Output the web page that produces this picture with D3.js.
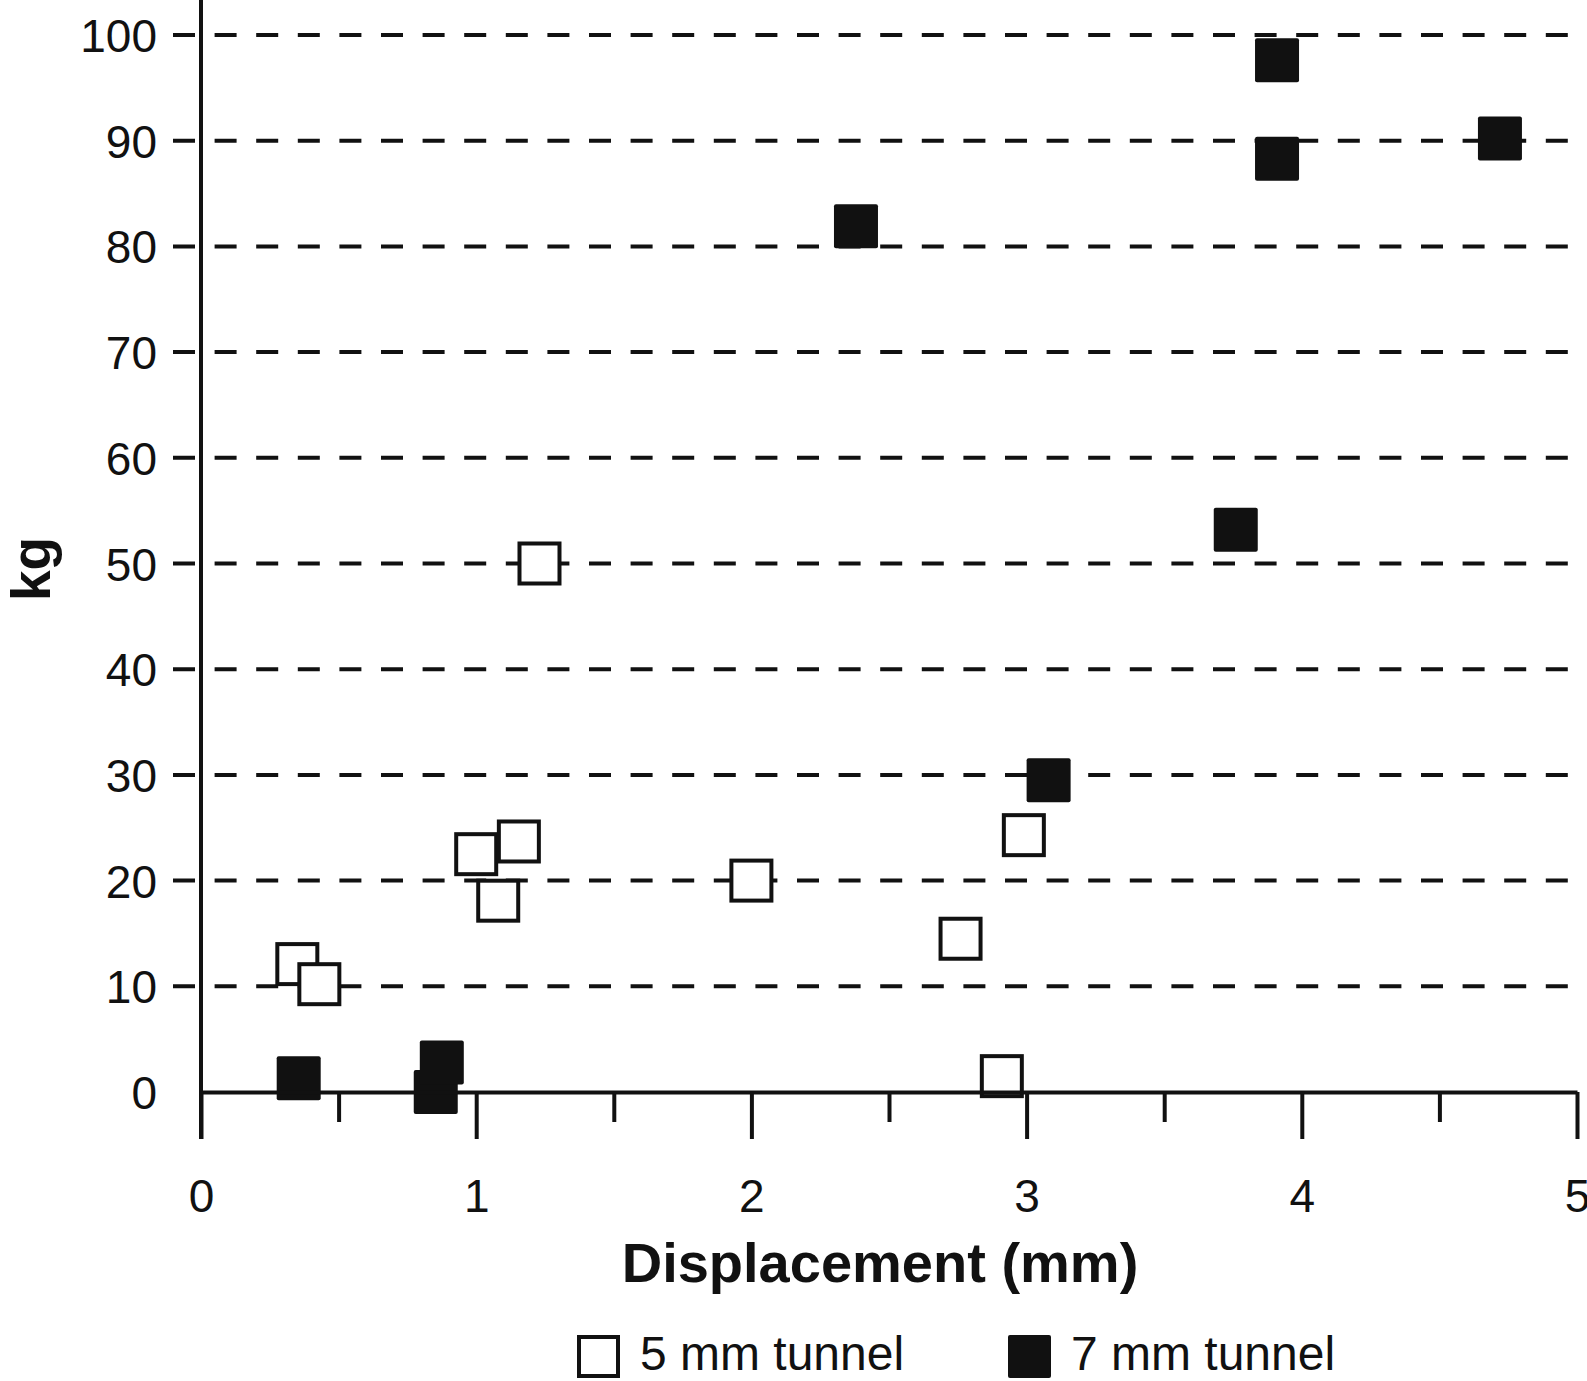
<!DOCTYPE html>
<html>
<head>
<meta charset="utf-8">
<script src="https://cdn.jsdelivr.net/npm/d3@7"></script>
<style>
  html, body { margin: 0; padding: 0; background: #fff; }
  svg { display: block; }
  text { font-family: 'Liberation Sans', Arial, sans-serif; fill: #111; }
</style>
</head>
<body>
<svg id="chart"></svg>
<script>
// 5 mm tunnel (open squares)
const tunnel5X = [0.35, 0.43, 1.0, 1.08, 1.155, 1.23, 2.0, 2.76, 2.91, 2.99]
const tunnel5Y = [12.1, 10.2, 22.5, 18.1, 23.7, 50.0, 20.0, 14.5, 1.5, 24.3]
// 7 mm tunnel (filled squares)
const tunnel7X = [0.355, 0.853, 0.875, 2.38, 3.08, 3.76, 3.91, 3.91, 4.72]
const tunnel7Y = [1.3, 0.0, 2.8, 81.9, 29.5, 53.2, 97.6, 88.3, 90.2]

const xTicks = [0, 0.5, 1, 1.5, 2, 2.5, 3, 3.5, 4, 4.5, 5]
const yTicks = [0, 10, 20, 30, 40, 50, 60, 70, 80, 90, 100]
const legendLabels = ['5 mm tunnel', '7 mm tunnel']

const W = 1587, H = 1381
const ink = '#111'

const svg = d3.select('#chart').attr('width', W).attr('height', H)

const x = d3.scaleLinear().domain([0, 5]).range([201, 1577])
const y = d3.scaleLinear().domain([0, 100]).range([1092, 35])

// dashed grid (starts a bit left of the y axis)
svg.append('g')
  .selectAll('line')
  .data(yTicks.filter((d) => d > 0))
  .join('line')
  .attr('x1', 173)
  .attr('x2', x(5))
  .attr('y1', (d) => y(d))
  .attr('y2', (d) => y(d))
  .attr('stroke', ink)
  .attr('stroke-width', 4)
  .attr('stroke-dasharray', '22,19.6')

// points
const pts5 = tunnel5X.map((v, i) => ({ x: v, y: tunnel5Y[i] }))
const pts7 = tunnel7X.map((v, i) => ({ x: v, y: tunnel7Y[i] }))
const s = 40

svg.append('g')
  .selectAll('rect')
  .data(pts5)
  .join('rect')
  .attr('x', (d) => x(d.x) - s / 2)
  .attr('y', (d) => y(d.y) - s / 2)
  .attr('width', s)
  .attr('height', s)
  .attr('fill', '#fff')
  .attr('stroke', ink)
  .attr('stroke-width', 4)

svg.append('g')
  .selectAll('rect')
  .data(pts7)
  .join('rect')
  .attr('x', (d) => x(d.x) - (s + 4) / 2)
  .attr('y', (d) => y(d.y) - (s + 4) / 2)
  .attr('width', s + 4)
  .attr('height', s + 4)
  .attr('rx', 2)
  .attr('fill', ink)

// x axis
const xAxis = svg.append('g')
  .attr('transform', `translate(0,${y(0)})`)
  .call(
    d3.axisBottom(x)
      .tickValues(xTicks)
      .tickSize(47)
      .tickSizeOuter(0)
      .tickFormat((d) => (Number.isInteger(d) ? d : ''))
  )
xAxis.select('.domain').attr('stroke', ink).attr('stroke-width', 4)
xAxis.selectAll('.tick line')
  .attr('stroke', ink)
  .attr('stroke-width', 4)
  .attr('y2', (d) => (Number.isInteger(d) ? 47 : 30))
xAxis.selectAll('.tick text')
  .attr('font-size', 46)
  .attr('font-family', "'Liberation Sans', Arial, sans-serif")
  .attr('fill', ink)
  .attr('dy', 0)
  .attr('y', 120)

// y axis line (runs off the top, down past the x axis)
svg.append('line')
  .attr('x1', x(0)).attr('x2', x(0))
  .attr('y1', 0).attr('y2', y(0) + 47)
  .attr('stroke', ink)
  .attr('stroke-width', 4)

// y tick labels
const yAxis = svg.append('g')
  .attr('transform', `translate(${x(0)},0)`)
  .call(d3.axisLeft(y).tickValues(yTicks).tickSize(0).tickPadding(44))
yAxis.select('.domain').remove()
yAxis.selectAll('.tick text')
  .attr('font-size', 46)
  .attr('font-family', "'Liberation Sans', Arial, sans-serif")
  .attr('fill', ink)
  .attr('dy', '0.36em')

// axis titles
svg.append('text')
  .attr('x', 880)
  .attr('y', 1282)
  .attr('text-anchor', 'middle')
  .attr('font-size', 56)
  .attr('font-weight', 'bold')
  .text('Displacement (mm)')

svg.append('text')
  .attr('transform', 'translate(50,569) rotate(-90)')
  .attr('text-anchor', 'middle')
  .attr('font-size', 55)
  .attr('font-weight', 'bold')
  .text('kg')

// legend
const legend = svg.append('g')
const legendX = [577, 1008]
legend.selectAll('rect')
  .data(legendLabels)
  .join('rect')
  .attr('x', (d, i) => legendX[i] + (i === 0 ? 2 : 0))
  .attr('y', (d, i) => 1335 + (i === 0 ? 2 : 0))
  .attr('width', (d, i) => (i === 0 ? 39 : 43))
  .attr('height', (d, i) => (i === 0 ? 39 : 43))
  .attr('rx', (d, i) => (i === 0 ? 0 : 2))
  .attr('fill', (d, i) => (i === 0 ? '#fff' : ink))
  .attr('stroke', (d, i) => (i === 0 ? ink : 'none'))
  .attr('stroke-width', 4)
legend.selectAll('text')
  .data(legendLabels)
  .join('text')
  .attr('x', (d, i) => legendX[i] + 63)
  .attr('y', 1370)
  .attr('font-size', 48)
  .text((d) => d)
</script>
</body>
</html>
